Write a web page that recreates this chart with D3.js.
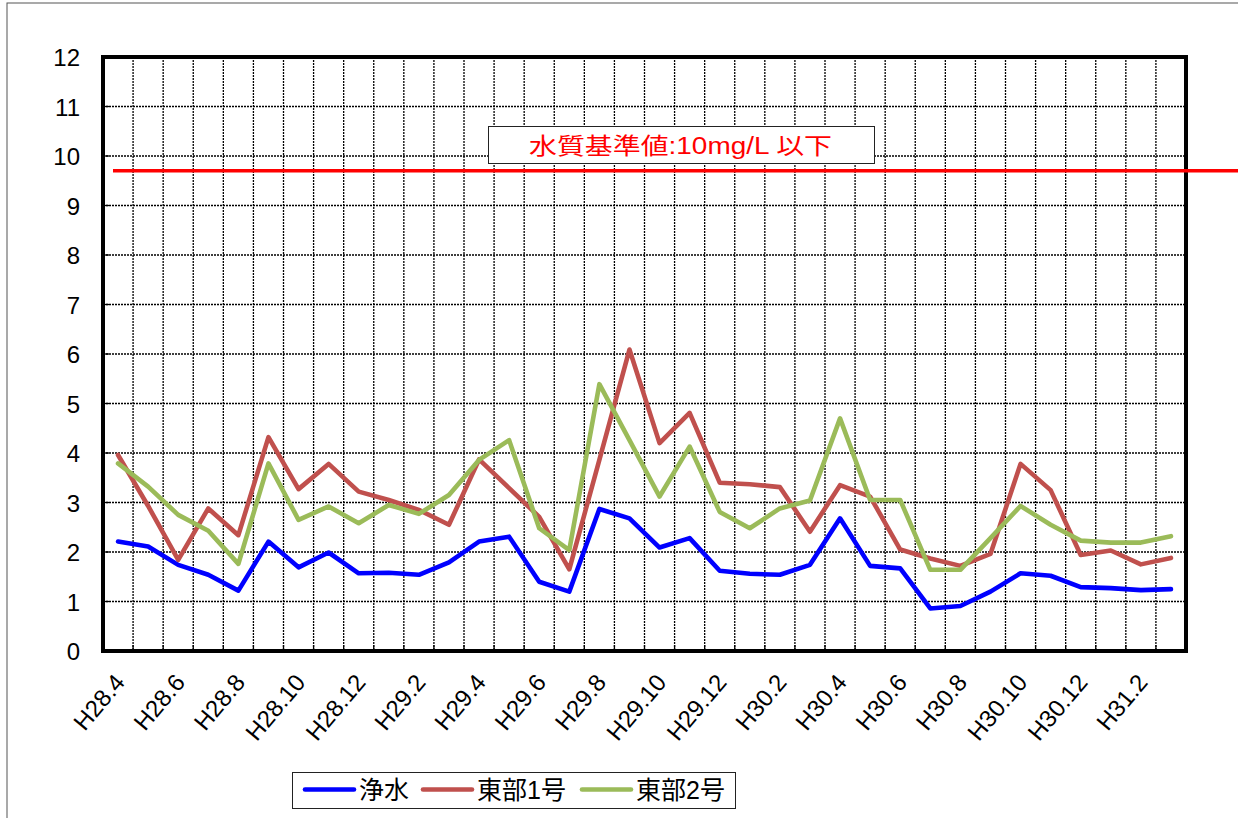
<!DOCTYPE html>
<html>
<head>
<meta charset="utf-8">
<script src="https://cdn.jsdelivr.net/npm/d3@7"></script>
<style>
  html, body { margin: 0; padding: 0; background: #fff; }
  svg { display: block; }
</style>
</head>
<body>
<svg id="chart" width="1238" height="818"></svg>
<script>
// ---- data ----
const months = [
  "H28.4","H28.5","H28.6","H28.7","H28.8","H28.9","H28.10","H28.11","H28.12","H29.1","H29.2","H29.3",
  "H29.4","H29.5","H29.6","H29.7","H29.8","H29.9","H29.10","H29.11","H29.12","H30.1","H30.2","H30.3",
  "H30.4","H30.5","H30.6","H30.7","H30.8","H30.9","H30.10","H30.11","H30.12","H31.1","H31.2","H31.3"
];
const tickLabels = ["H28.4","H28.6","H28.8","H28.10","H28.12","H29.2","H29.4","H29.6","H29.8","H29.10",
  "H29.12","H30.2","H30.4","H30.6","H30.8","H30.10","H30.12","H31.2"];
const yTicks = [0,1,2,3,4,5,6,7,8,9,10,11,12];
const seriesNames = ["浄水","東部1号","東部2号"];
const josui = [2.21,2.11,1.74,1.54,1.22,2.21,1.69,1.99,1.57,1.58,1.54,1.79,
  2.21,2.31,1.40,1.20,2.87,2.68,2.09,2.28,1.62,1.56,1.54,1.74,
  2.68,1.72,1.67,0.86,0.91,1.20,1.57,1.52,1.29,1.27,1.23,1.25];
const tobu1 = [3.96,2.93,1.84,2.88,2.34,4.32,3.27,3.78,3.22,3.05,2.85,2.55,
  3.87,3.29,2.71,1.65,3.86,6.09,4.20,4.81,3.40,3.37,3.31,2.41,
  3.35,3.12,2.05,1.87,1.72,1.96,3.78,3.25,1.94,2.03,1.75,1.88];
const tobu2 = [3.79,3.32,2.75,2.43,1.76,3.79,2.65,2.92,2.58,2.95,2.77,3.15,
  3.86,4.26,2.48,2.04,5.39,4.26,3.12,4.13,2.81,2.48,2.88,3.04,
  4.70,3.05,3.05,1.64,1.64,2.28,2.93,2.55,2.23,2.19,2.19,2.32];
const standardValue = 9.7;
const standardLabel = "水質基準値:10mg/L 以下";

// ---- layout ----
const svg = d3.select("#chart");
const L = 103, R = 1186, T = 57, B = 651;
const x = d3.scaleBand().domain(months).range([L, R]).padding(0);
const y = d3.scaleLinear().domain([0, 12]).range([B, T]);
const colors = ["#0000FF", "#C0504D", "#9BBB59"];
const latin = "'Liberation Sans', Arial, sans-serif";
const cjk = "'Liberation Sans', 'Noto Sans CJK JP', sans-serif";

// outer frame
svg.append("rect").attr("x", 7).attr("y", 3).attr("width", 1260).attr("height", 840)
  .attr("fill", "none").attr("stroke", "#555").attr("stroke-width", 1);

// grid - horizontal
const g = svg.append("g");
g.selectAll("line.hg").data(yTicks.slice(1, -1)).join("line")
  .attr("x1", L).attr("x2", R).attr("y1", d => y(d)).attr("y2", d => y(d))
  .attr("stroke", "#000").attr("stroke-width", 1.3).attr("stroke-dasharray", "2,1");
// grid - vertical at band boundaries
const bounds = months.slice(1);
g.selectAll("line.vg").data(bounds).join("line")
  .attr("x1", d => x(d)).attr("x2", d => x(d)).attr("y1", T).attr("y2", B)
  .attr("stroke", "#000").attr("stroke-width", 1.3).attr("stroke-dasharray", "2,1");
// inner tick marks
g.selectAll("line.bt").data(bounds).join("line")
  .attr("x1", d => x(d)).attr("x2", d => x(d)).attr("y1", B - 6).attr("y2", B)
  .attr("stroke", "#000").attr("stroke-width", 1.3);
g.selectAll("line.lt").data(yTicks.slice(1, -1)).join("line")
  .attr("x1", L).attr("x2", L + 6).attr("y1", d => y(d)).attr("y2", d => y(d))
  .attr("stroke", "#000").attr("stroke-width", 1.3);

// y labels
svg.append("g").selectAll("text").data(yTicks).join("text")
  .attr("x", 80).attr("y", d => y(d) + 9)
  .attr("text-anchor", "end").attr("font-family", latin).attr("font-size", 24)
  .attr("fill", "#000").text(d => d);

// x labels
svg.append("g").selectAll("text").data(tickLabels).join("text")
  .attr("transform", d => `translate(${x(d) + x.bandwidth() / 2 + 8},683) rotate(-50)`)
  .attr("text-anchor", "end").attr("font-family", latin).attr("font-size", 24)
  .attr("fill", "#000").text(d => d);

// series
const line = d3.line().x((d, i) => x(months[i]) + x.bandwidth() / 2).y(d => y(d));
[josui, tobu1, tobu2].forEach((s, k) => {
  svg.append("path").datum(s).attr("d", line).attr("fill", "none")
    .attr("stroke", colors[k]).attr("stroke-width", 4.6)
    .attr("stroke-linejoin", "round").attr("stroke-linecap", "round");
});

// plot border
svg.append("rect").attr("x", L).attr("y", T).attr("width", R - L).attr("height", B - T)
  .attr("fill", "none").attr("stroke", "#000").attr("stroke-width", 4);

// standard line
svg.append("line").attr("x1", 113).attr("x2", 1238)
  .attr("y1", y(standardValue)).attr("y2", y(standardValue))
  .attr("stroke", "#FF0000").attr("stroke-width", 3.5);

// annotation box
svg.append("rect").attr("x", 488.5).attr("y", 126.5).attr("width", 386).attr("height", 37)
  .attr("fill", "#fff").attr("stroke", "#222").attr("stroke-width", 1);
svg.append("text").attr("x", 529).attr("y", 154)
  .attr("font-family", cjk).attr("font-size", 23).attr("fill", "#FF0000")
  .attr("textLength", 303).attr("lengthAdjust", "spacingAndGlyphs")
  .text(standardLabel);

// legend
const leg = svg.append("g");
leg.append("rect").attr("x", 292.5).attr("y", 772.5).attr("width", 443).attr("height", 36)
  .attr("fill", "#fff").attr("stroke", "#222").attr("stroke-width", 1);
const legX = [305, 423, 582];
seriesNames.forEach((n, k) => {
  leg.append("line").attr("x1", legX[k]).attr("x2", legX[k] + 49)
    .attr("y1", 789.5).attr("y2", 789.5)
    .attr("stroke", colors[k]).attr("stroke-width", 4.6).attr("stroke-linecap", "round");
  leg.append("text").attr("x", legX[k] + 54).attr("y", 799)
    .attr("font-family", cjk).attr("font-size", 25).attr("fill", "#000")
    .text(n);
});
</script>
</body>
</html>
